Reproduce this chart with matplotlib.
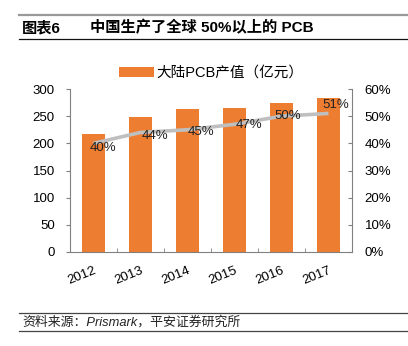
import matplotlib
matplotlib.use('Agg')
import matplotlib.pyplot as plt
from matplotlib.lines import Line2D

plt.rcParams['font.family'] = ['Liberation Sans', 'Noto Sans CJK SC', 'DejaVu Sans']
plt.rcParams['font.size'] = 9.5

# data
years = ['2012', '2013', '2014', '2015', '2016', '2017']
output_value = [218, 248, 264, 265, 274, 284]   # 大陆PCB产值（亿元）
china_share = [40, 44, 45, 47, 50, 51]           # %
share_labels = ['40%', '44%', '45%', '47%', '50%', '51%']

bar_color = '#ED7D31'
line_color = '#BFBFBF'
# label offsets in pixels (dx, dy) relative to each point
label_offsets = [(10, -5), (15, -4), (14, -2), (14, -1), (6, 0), (7, 8)]

fig = plt.figure(figsize=(4.08, 3.46), dpi=100)
ax = fig.add_axes([70 / 408, 1 - 252 / 346, 282 / 408, 163 / 346])
ax2 = ax.twinx()

x = list(range(len(years)))
bars = ax.bar(x, output_value, width=0.47, color=bar_color, zorder=2,
              label='大陆PCB产值（亿元）')
ax2.plot(x, china_share, color=line_color, lw=2.6, solid_capstyle='butt', zorder=3)
for xi, v, lab, (dx, dy) in zip(x, china_share, share_labels, label_offsets):
    ax2.annotate(lab, (xi, v), xytext=(dx * 0.72, dy * 0.72), textcoords='offset points',
                 ha='center', va='center', fontsize=9.5, color='#222222')

ax.set_xlim(-0.5, len(years) - 0.5)
ax.set_ylim(0, 300)
ax.set_yticks(range(0, 301, 50))
ax2.set_ylim(0, 60)
ax2.set_yticks(range(0, 61, 10))
ax2.set_yticklabels(['%d%%' % v for v in range(0, 61, 10)])

ax.set_xticks(x)
ax.set_xticklabels(years, rotation=22, ha='right', rotation_mode='anchor')
ax.set_xticks([i + 0.5 for i in x[:-1]], minor=True)
ax.tick_params(axis='x', which='major', length=0, pad=9)
ax.tick_params(axis='x', which='minor', direction='in', length=3, color='#808080')
ax.tick_params(axis='y', direction='out', length=3, color='#808080', pad=8)
ax2.tick_params(axis='y', direction='in', length=3, color='#808080', pad=9)

for a in (ax, ax2):
    a.spines['top'].set_visible(False)
    for s in ('left', 'right', 'bottom'):
        a.spines[s].set_color('#808080')
        a.spines[s].set_linewidth(0.8)
ax.spines['right'].set_visible(False)
ax2.spines['left'].set_visible(False)
ax2.spines['bottom'].set_visible(False)
ax2.set_zorder(ax.get_zorder() + 1)
ax2.patch.set_visible(False)

fig.legend(handles=[bars], loc='center', bbox_to_anchor=(211 / 408, 1 - 73 / 346),
           frameon=False, fontsize=10.5, handlelength=2.4, handleheight=0.75,
           handletextpad=0.2, borderpad=0)

# header
fig.add_artist(Line2D([19 / 408, 1], [1 - 15 / 346] * 2, color='#999999', lw=1.6))
fig.add_artist(Line2D([19 / 408, 1], [1 - 39 / 346] * 2, color='#111111', lw=0.9))
fig.text(22 / 408, 1 - 28 / 346, '图表6', fontsize=11, fontweight='bold', va='center')
fig.text(90 / 408, 1 - 28 / 346, '中国生产了全球 50%以上的 PCB', fontsize=11,
         fontweight='bold', va='center')

# footer
fig.add_artist(Line2D([19 / 408, 1], [1 - 313 / 346] * 2, color='#444444', lw=0.9))
fig.add_artist(Line2D([19 / 408, 1], [1 - 331 / 346] * 2, color='#444444', lw=0.9))
fig.text(22 / 408, 1 - 322.5 / 346, '资料来源：Prismark，平安证券研究所', fontsize=9.3,
         style='italic', va='center', color='#222222')

fig.savefig('out.png', dpi=100)
